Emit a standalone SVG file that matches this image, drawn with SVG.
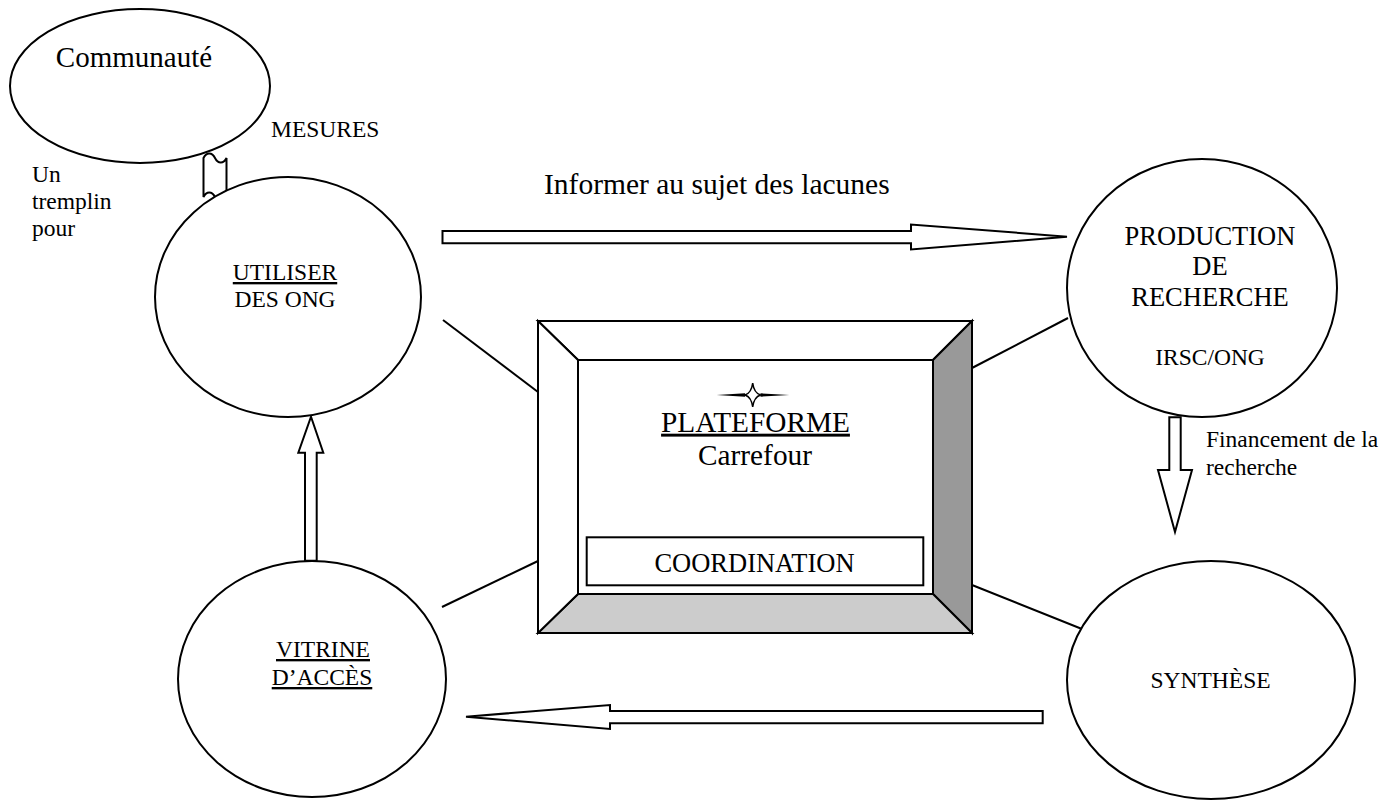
<svg xmlns="http://www.w3.org/2000/svg" width="1400" height="800" viewBox="0 0 1400 800">
<style>
.n{fill:#fff;stroke:#000;stroke-width:2}
.l{stroke:#000;stroke-width:2;fill:none}
.a{fill:#fff;stroke:#000;stroke-width:2;stroke-linejoin:miter}
text{font-family:"Liberation Serif","Times New Roman",serif;fill:#000}
.s{font-size:23.5px}
.m{font-size:26.5px}
.b{font-size:29.5px}
.c{text-anchor:middle}
.u{text-decoration:underline}
</style>
<rect width="1400" height="800" fill="#fff"/>
<g id="connectors">
<line class="l" x1="443" y1="320" x2="538" y2="392"/>
<line class="l" x1="442" y1="607" x2="538" y2="561"/>
<line class="l" x1="972" y1="368" x2="1068" y2="318"/>
<line class="l" x1="972" y1="585" x2="1092" y2="633"/>
<path class="a" d="M442.5,231 L911,231 L911,224.5 L1067,236.7 L911,249.5 L911,243.3 L442.5,243.3 Z"/>
<path class="a" d="M1042.7,711 L610,711 L610,705 L466,716.7 L610,729 L610,723.3 L1042.7,723.3 Z"/>
<path class="a" d="M305,560.7 L305,452.7 L298.3,452.7 L311,416.7 L323.3,452.7 L316.7,452.7 L316.7,560.7 Z"/>
<path class="a" d="M1169.3,417.3 L1180.7,417.3 L1180.7,470 L1192,470 L1175,532 L1158,470 L1169.3,470 Z"/>
<path class="a" d="M203.5,158 c3,-6 8.5,-6 11.5,0 c3,6 8.5,6 11.5,0 L226.5,197 c-3,6 -8.5,6 -11.5,0 c-3,-6 -8.5,-6 -11.5,0 Z"/>
</g>
<g id="communaute">
<ellipse class="n" cx="140" cy="86" rx="130" ry="77"/>
<text class="b" x="134" y="67" style="font-size:29px" text-anchor="middle">Communauté</text>
</g>
<g id="label-mesures"><text class="s" x="271" y="137">MESURES</text></g>
<g id="label-tremplin">
<text class="s" x="32" y="182">Un</text>
<text class="s" x="32" y="209">tremplin</text>
<text class="s" x="32" y="236">pour</text>
</g>
<g id="label-informer"><text class="b" x="544" y="194">Informer au sujet des lacunes</text></g>
<g id="utiliser">
<ellipse class="n" cx="288" cy="297" rx="133" ry="120"/>
<text class="s c u" x="285" y="280">UTILISER</text>
<text class="s c" x="285" y="307">DES ONG</text>
</g>
<g id="production">
<ellipse class="n" cx="1202" cy="288" rx="135" ry="129"/>
<text class="c" style="font-size:26.5px" x="1210" y="245">PRODUCTION</text>
<text class="c" style="font-size:26.5px" x="1210" y="275">DE</text>
<text class="c" style="font-size:26.5px" x="1210" y="306">RECHERCHE</text>
<text class="s c" x="1210" y="365">IRSC/ONG</text>
</g>
<g id="label-financement">
<text class="s" x="1206" y="447">Financement de la</text>
<text class="s" x="1206" y="475">recherche</text>
</g>
<g id="synthese">
<ellipse class="n" cx="1211" cy="680" rx="144" ry="119"/>
<text class="s c" x="1210.5" y="688">SYNTHÈSE</text>
</g>
<g id="vitrine">
<ellipse class="n" cx="312" cy="679" rx="134" ry="118"/>
<text class="s c u" x="323" y="657">VITRINE</text>
<text class="s c u" x="322" y="685">D’ACCÈS</text>
</g>
<g id="plateforme">
<polygon points="538,321 972,321 933,360 578,360" fill="#fff" stroke="#000" stroke-width="2"/>
<polygon points="972,321 972,633 933,594 933,360" fill="#999" stroke="#000" stroke-width="2"/>
<polygon points="538,633 972,633 933,594 578,594" fill="#ccc" stroke="#000" stroke-width="2"/>
<polygon points="538,321 578,360 578,594 538,633" fill="#fff" stroke="#000" stroke-width="2"/>
<rect x="578" y="360" width="355" height="234" fill="#fff" stroke="#000" stroke-width="2"/>
<path d="M716.7,395 L745,393.3 L745,396.7 Z M789.3,395 L760.5,393.3 L760.5,396.7 Z" fill="#000"/>
<path d="M752.7,383 Q754,393 760.5,395 Q754,397 752.7,407 Q751.4,397 745,395 Q751.4,393 752.7,383 Z" fill="#fff" stroke="#000" stroke-width="1.5"/>
<text class="c u" style="font-size:29.3px" x="755.5" y="431.7">PLATEFORME</text>
<text class="c" style="font-size:29.3px" x="755" y="465">Carrefour</text>
<rect x="586.7" y="537.3" width="336.6" height="48" fill="#fff" stroke="#000" stroke-width="2"/>
<text class="c" style="font-size:26.5px" x="754.5" y="571.7">COORDINATION</text>
</g>
</svg>
